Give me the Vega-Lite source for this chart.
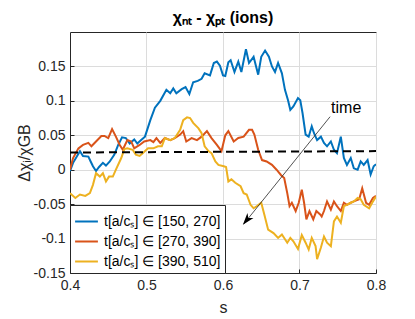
{
  "$schema": "https://vega.github.io/schema/vega-lite/v6.json",
  "width": 306,
  "height": 241,
  "autosize": "none",
  "padding": {"left": 70, "top": 32, "right": 39, "bottom": 46},
  "background": "white",
  "title": {"text": "χₙₜ - χₚₜ (ions)", "fontSize": 16, "fontWeight": "bold", "font": "Liberation Sans", "color": "#000000", "offset": 6, "anchor": "middle"},
  "config": {
    "view": {"stroke": "#262626", "strokeWidth": 1},
    "axis": {"font": "Liberation Sans", "labelFont": "Liberation Sans", "titleFont": "Liberation Sans", "labelFontSize": 14, "titleFontSize": 16, "titleFontWeight": "normal", "labelColor": "#262626", "titleColor": "#262626", "domainColor": "#262626", "tickColor": "#262626", "gridColor": "#dcdcdc", "gridWidth": 1, "tickSize": -4, "labelPadding": 9, "labelFlush": false}
  },
  "layer": [
    {
      "data": {"values": [
        {"s":0.400,"v":-0.002,"k":"a"},{"s":0.404,"v":0.010,"k":"a"},{"s":0.413,"v":0.027,"k":"a"},{"s":0.417,"v":0.020,"k":"a"},{"s":0.424,"v":0.019,"k":"a"},{"s":0.427,"v":0.012,"k":"a"},{"s":0.430,"v":0.005,"k":"a"},{"s":0.434,"v":-0.002,"k":"a"},{"s":0.438,"v":0.004,"k":"a"},{"s":0.443,"v":0.010,"k":"a"},{"s":0.447,"v":0.006,"k":"a"},{"s":0.452,"v":0.012,"k":"a"},{"s":0.458,"v":0.022,"k":"a"},{"s":0.463,"v":0.036,"k":"a"},{"s":0.468,"v":0.047,"k":"a"},{"s":0.473,"v":0.046,"k":"a"},{"s":0.478,"v":0.038,"k":"a"},{"s":0.484,"v":0.044,"k":"a"},{"s":0.488,"v":0.038,"k":"a"},{"s":0.493,"v":0.043,"k":"a"},{"s":0.498,"v":0.048,"k":"a"},{"s":0.505,"v":0.072,"k":"a"},{"s":0.511,"v":0.090,"k":"a"},{"s":0.518,"v":0.100,"k":"a"},{"s":0.526,"v":0.116,"k":"a"},{"s":0.531,"v":0.111,"k":"a"},{"s":0.535,"v":0.118,"k":"a"},{"s":0.539,"v":0.111,"k":"a"},{"s":0.546,"v":0.117,"k":"a"},{"s":0.551,"v":0.120,"k":"a"},{"s":0.556,"v":0.110,"k":"a"},{"s":0.561,"v":0.127,"k":"a"},{"s":0.567,"v":0.129,"k":"a"},{"s":0.572,"v":0.132,"k":"a"},{"s":0.576,"v":0.140,"k":"a"},{"s":0.583,"v":0.137,"k":"a"},{"s":0.588,"v":0.155,"k":"a"},{"s":0.592,"v":0.157,"k":"a"},{"s":0.596,"v":0.151,"k":"a"},{"s":0.600,"v":0.137,"k":"a"},{"s":0.603,"v":0.136,"k":"a"},{"s":0.607,"v":0.156,"k":"a"},{"s":0.610,"v":0.159,"k":"a"},{"s":0.615,"v":0.142,"k":"a"},{"s":0.620,"v":0.157,"k":"a"},{"s":0.624,"v":0.142,"k":"a"},{"s":0.630,"v":0.175,"k":"a"},{"s":0.634,"v":0.155,"k":"a"},{"s":0.640,"v":0.164,"k":"a"},{"s":0.646,"v":0.138,"k":"a"},{"s":0.650,"v":0.164,"k":"a"},{"s":0.655,"v":0.173,"k":"a"},{"s":0.660,"v":0.164,"k":"a"},{"s":0.664,"v":0.150,"k":"a"},{"s":0.668,"v":0.142,"k":"a"},{"s":0.672,"v":0.155,"k":"a"},{"s":0.677,"v":0.140,"k":"a"},{"s":0.681,"v":0.116,"k":"a"},{"s":0.685,"v":0.101,"k":"a"},{"s":0.688,"v":0.087,"k":"a"},{"s":0.692,"v":0.092,"k":"a"},{"s":0.698,"v":0.104,"k":"a"},{"s":0.701,"v":0.101,"k":"a"},{"s":0.704,"v":0.082,"k":"a"},{"s":0.708,"v":0.051,"k":"a"},{"s":0.712,"v":0.048,"k":"a"},{"s":0.716,"v":0.063,"k":"a"},{"s":0.719,"v":0.053,"k":"a"},{"s":0.723,"v":0.043,"k":"a"},{"s":0.728,"v":0.048,"k":"a"},{"s":0.732,"v":0.039,"k":"a"},{"s":0.736,"v":0.034,"k":"a"},{"s":0.741,"v":0.041,"k":"a"},{"s":0.745,"v":0.029,"k":"a"},{"s":0.749,"v":0.024,"k":"a"},{"s":0.754,"v":0.048,"k":"a"},{"s":0.758,"v":0.017,"k":"a"},{"s":0.762,"v":0.007,"k":"a"},{"s":0.767,"v":0.017,"k":"a"},{"s":0.771,"v":0.002,"k":"a"},{"s":0.776,"v":0.000,"k":"a"},{"s":0.780,"v":0.012,"k":"a"},{"s":0.784,"v":0.007,"k":"a"},{"s":0.789,"v":0.014,"k":"a"},{"s":0.793,"v":-0.007,"k":"a"},{"s":0.797,"v":0.005,"k":"a"},{"s":0.800,"v":0.008,"k":"a"},

        {"s":0.400,"v":0.000,"k":"b"},{"s":0.404,"v":0.017,"k":"b"},{"s":0.411,"v":0.031,"k":"b"},{"s":0.417,"v":0.036,"k":"b"},{"s":0.424,"v":0.039,"k":"b"},{"s":0.428,"v":0.034,"k":"b"},{"s":0.434,"v":0.041,"k":"b"},{"s":0.441,"v":0.049,"k":"b"},{"s":0.445,"v":0.049,"k":"b"},{"s":0.450,"v":0.046,"k":"b"},{"s":0.455,"v":0.059,"k":"b"},{"s":0.460,"v":0.048,"k":"b"},{"s":0.465,"v":0.036,"k":"b"},{"s":0.469,"v":0.029,"k":"b"},{"s":0.475,"v":0.043,"k":"b"},{"s":0.480,"v":0.041,"k":"b"},{"s":0.484,"v":0.031,"k":"b"},{"s":0.491,"v":0.036,"k":"b"},{"s":0.497,"v":0.041,"k":"b"},{"s":0.505,"v":0.043,"k":"b"},{"s":0.509,"v":0.040,"k":"b"},{"s":0.513,"v":0.046,"k":"b"},{"s":0.518,"v":0.039,"k":"b"},{"s":0.524,"v":0.046,"k":"b"},{"s":0.531,"v":0.043,"k":"b"},{"s":0.537,"v":0.046,"k":"b"},{"s":0.544,"v":0.051,"k":"b"},{"s":0.548,"v":0.056,"k":"b"},{"s":0.552,"v":0.041,"k":"b"},{"s":0.559,"v":0.046,"k":"b"},{"s":0.566,"v":0.043,"k":"b"},{"s":0.572,"v":0.048,"k":"b"},{"s":0.579,"v":0.056,"k":"b"},{"s":0.585,"v":0.046,"k":"b"},{"s":0.592,"v":0.036,"k":"b"},{"s":0.598,"v":0.027,"k":"b"},{"s":0.603,"v":0.050,"k":"b"},{"s":0.607,"v":0.056,"k":"b"},{"s":0.614,"v":0.041,"k":"b"},{"s":0.620,"v":0.046,"k":"b"},{"s":0.627,"v":0.048,"k":"b"},{"s":0.634,"v":0.058,"k":"b"},{"s":0.638,"v":0.058,"k":"b"},{"s":0.641,"v":0.051,"k":"b"},{"s":0.646,"v":0.029,"k":"b"},{"s":0.651,"v":0.014,"k":"b"},{"s":0.657,"v":0.012,"k":"b"},{"s":0.664,"v":0.007,"k":"b"},{"s":0.670,"v":0.000,"k":"b"},{"s":0.676,"v":-0.008,"k":"b"},{"s":0.680,"v":-0.012,"k":"b"},{"s":0.684,"v":-0.034,"k":"b"},{"s":0.687,"v":-0.053,"k":"b"},{"s":0.690,"v":-0.048,"k":"b"},{"s":0.695,"v":-0.060,"k":"b"},{"s":0.699,"v":-0.048,"k":"b"},{"s":0.703,"v":-0.029,"k":"b"},{"s":0.706,"v":-0.048,"k":"b"},{"s":0.709,"v":-0.072,"k":"b"},{"s":0.713,"v":-0.060,"k":"b"},{"s":0.718,"v":-0.072,"k":"b"},{"s":0.722,"v":-0.060,"k":"b"},{"s":0.727,"v":-0.065,"k":"b"},{"s":0.729,"v":-0.068,"k":"b"},{"s":0.732,"v":-0.060,"k":"b"},{"s":0.736,"v":-0.046,"k":"b"},{"s":0.741,"v":-0.058,"k":"b"},{"s":0.745,"v":-0.046,"k":"b"},{"s":0.749,"v":-0.053,"k":"b"},{"s":0.754,"v":-0.060,"k":"b"},{"s":0.758,"v":-0.048,"k":"b"},{"s":0.762,"v":-0.051,"k":"b"},{"s":0.767,"v":-0.048,"k":"b"},{"s":0.771,"v":-0.046,"k":"b"},{"s":0.778,"v":-0.043,"k":"b"},{"s":0.782,"v":-0.027,"k":"b"},{"s":0.787,"v":-0.048,"k":"b"},{"s":0.791,"v":-0.051,"k":"b"},{"s":0.796,"v":-0.041,"k":"b"},{"s":0.800,"v":-0.038,"k":"b"},

        {"s":0.400,"v":-0.034,"k":"c"},{"s":0.407,"v":-0.041,"k":"c"},{"s":0.413,"v":-0.036,"k":"c"},{"s":0.420,"v":-0.038,"k":"c"},{"s":0.426,"v":-0.034,"k":"c"},{"s":0.430,"v":-0.022,"k":"c"},{"s":0.434,"v":-0.005,"k":"c"},{"s":0.439,"v":-0.010,"k":"c"},{"s":0.443,"v":-0.005,"k":"c"},{"s":0.447,"v":-0.017,"k":"c"},{"s":0.451,"v":-0.010,"k":"c"},{"s":0.456,"v":-0.010,"k":"c"},{"s":0.460,"v":0.000,"k":"c"},{"s":0.467,"v":0.017,"k":"c"},{"s":0.471,"v":0.030,"k":"c"},{"s":0.475,"v":0.031,"k":"c"},{"s":0.482,"v":0.029,"k":"c"},{"s":0.486,"v":0.022,"k":"c"},{"s":0.491,"v":0.020,"k":"c"},{"s":0.495,"v":0.024,"k":"c"},{"s":0.502,"v":0.031,"k":"c"},{"s":0.509,"v":0.031,"k":"c"},{"s":0.515,"v":0.034,"k":"c"},{"s":0.520,"v":0.034,"k":"c"},{"s":0.524,"v":0.046,"k":"c"},{"s":0.531,"v":0.043,"k":"c"},{"s":0.537,"v":0.046,"k":"c"},{"s":0.544,"v":0.058,"k":"c"},{"s":0.548,"v":0.072,"k":"c"},{"s":0.553,"v":0.076,"k":"c"},{"s":0.557,"v":0.075,"k":"c"},{"s":0.561,"v":0.068,"k":"c"},{"s":0.568,"v":0.060,"k":"c"},{"s":0.572,"v":0.053,"k":"c"},{"s":0.576,"v":0.034,"k":"c"},{"s":0.581,"v":0.027,"k":"c"},{"s":0.585,"v":0.024,"k":"c"},{"s":0.590,"v":0.012,"k":"c"},{"s":0.594,"v":0.007,"k":"c"},{"s":0.601,"v":0.005,"k":"c"},{"s":0.604,"v":0.004,"k":"c"},{"s":0.607,"v":-0.017,"k":"c"},{"s":0.611,"v":-0.014,"k":"c"},{"s":0.616,"v":-0.019,"k":"c"},{"s":0.623,"v":-0.024,"k":"c"},{"s":0.627,"v":-0.034,"k":"c"},{"s":0.631,"v":-0.036,"k":"c"},{"s":0.636,"v":-0.051,"k":"c"},{"s":0.640,"v":-0.056,"k":"c"},{"s":0.644,"v":-0.053,"k":"c"},{"s":0.650,"v":-0.048,"k":"c"},{"s":0.654,"v":-0.065,"k":"c"},{"s":0.659,"v":-0.087,"k":"c"},{"s":0.666,"v":-0.092,"k":"c"},{"s":0.672,"v":-0.099,"k":"c"},{"s":0.677,"v":-0.094,"k":"c"},{"s":0.684,"v":-0.106,"k":"c"},{"s":0.688,"v":-0.099,"k":"c"},{"s":0.692,"v":-0.104,"k":"c"},{"s":0.698,"v":-0.115,"k":"c"},{"s":0.703,"v":-0.095,"k":"c"},{"s":0.708,"v":-0.106,"k":"c"},{"s":0.712,"v":-0.116,"k":"c"},{"s":0.716,"v":-0.099,"k":"c"},{"s":0.721,"v":-0.111,"k":"c"},{"s":0.723,"v":-0.130,"k":"c"},{"s":0.728,"v":-0.113,"k":"c"},{"s":0.732,"v":-0.097,"k":"c"},{"s":0.736,"v":-0.106,"k":"c"},{"s":0.741,"v":-0.111,"k":"c"},{"s":0.745,"v":-0.075,"k":"c"},{"s":0.749,"v":-0.068,"k":"c"},{"s":0.754,"v":-0.077,"k":"c"},{"s":0.758,"v":-0.053,"k":"c"},{"s":0.762,"v":-0.051,"k":"c"},{"s":0.767,"v":-0.048,"k":"c"},{"s":0.771,"v":-0.046,"k":"c"},{"s":0.776,"v":-0.041,"k":"c"},{"s":0.780,"v":-0.043,"k":"c"},{"s":0.784,"v":-0.051,"k":"c"},{"s":0.791,"v":-0.056,"k":"c"},{"s":0.795,"v":-0.048,"k":"c"},{"s":0.800,"v":-0.039,"k":"c"}
      ]},
      "mark": {"type": "line", "strokeWidth": 2, "clip": true},
      "encoding": {
        "x": {"field": "s", "type": "quantitative", "scale": {"domain": [0.4, 0.8], "nice": false, "zero": false}, "axis": {"title": "s", "values": [0.4, 0.5, 0.6, 0.7, 0.8], "labelExpr": "toString(datum.value)", "titlePadding": 7}},
        "y": {"field": "v", "type": "quantitative", "scale": {"domain": [-0.15, 0.2], "nice": false, "zero": false}, "axis": {"title": "Δχᵢ/χGB", "values": [-0.15, -0.1, -0.05, 0, 0.05, 0.1, 0.15], "labelExpr": "toString(datum.value)", "titlePadding": 1}},
        "color": {"field": "k", "type": "nominal", "scale": {"domain": ["a", "b", "c"], "range": ["#0072BD", "#D95319", "#EDB120"]},
          "legend": {"title": null, "orient": "bottom-left", "offset": 0, "labelExpr": "datum.label == 'a' ? 't[a/cₛ] ∈ [150, 270]' : datum.label == 'b' ? 't[a/cₛ] ∈ [270, 390]' : 't[a/cₛ] ∈ [390, 510]'", "symbolType": "stroke", "symbolSize": 520, "symbolStrokeWidth": 2, "labelFont": "Liberation Sans", "labelFontSize": 14, "labelColor": "#000000", "labelLimit": 0, "labelOffset": 5, "rowPadding": 0, "padding": 4, "strokeColor": "#262626", "fillColor": "white", "cornerRadius": 0}}
      }
    },
    {
      "data": {"values": [{"s": 0.4, "v": 0.025}, {"s": 0.8, "v": 0.027}]},
      "mark": {"type": "line", "color": "#000000", "strokeWidth": 2, "strokeDash": [8, 5]},
      "encoding": {"x": {"field": "s", "type": "quantitative"}, "y": {"field": "v", "type": "quantitative"}}
    },
    {
      "data": {"values": [{"s": 0.740, "v": 0.077, "s2": 0.627, "v2": -0.079}]},
      "mark": {"type": "rule", "color": "#262626", "strokeWidth": 0.8},
      "encoding": {"x": {"field": "s", "type": "quantitative"}, "y": {"field": "v", "type": "quantitative"}, "x2": {"field": "s2"}, "y2": {"field": "v2"}}
    },
    {
      "data": {"values": [{"s": 0.626, "v": -0.080}]},
      "mark": {"type": "point", "shape": "M0,0L0.65,2L0,1.45L-0.65,2Z", "size": 144, "angle": 219, "filled": true, "color": "#000000", "opacity": 1},
      "encoding": {"x": {"field": "s", "type": "quantitative"}, "y": {"field": "v", "type": "quantitative"}}
    },
    {
      "data": {"values": [{"s": 0.761, "v": 0.090, "t": "time"}]},
      "mark": {"type": "text", "font": "Liberation Sans", "fontSize": 16, "color": "#000000", "align": "center", "baseline": "middle"},
      "encoding": {"x": {"field": "s", "type": "quantitative"}, "y": {"field": "v", "type": "quantitative"}, "text": {"field": "t"}}
    }
  ]
}
